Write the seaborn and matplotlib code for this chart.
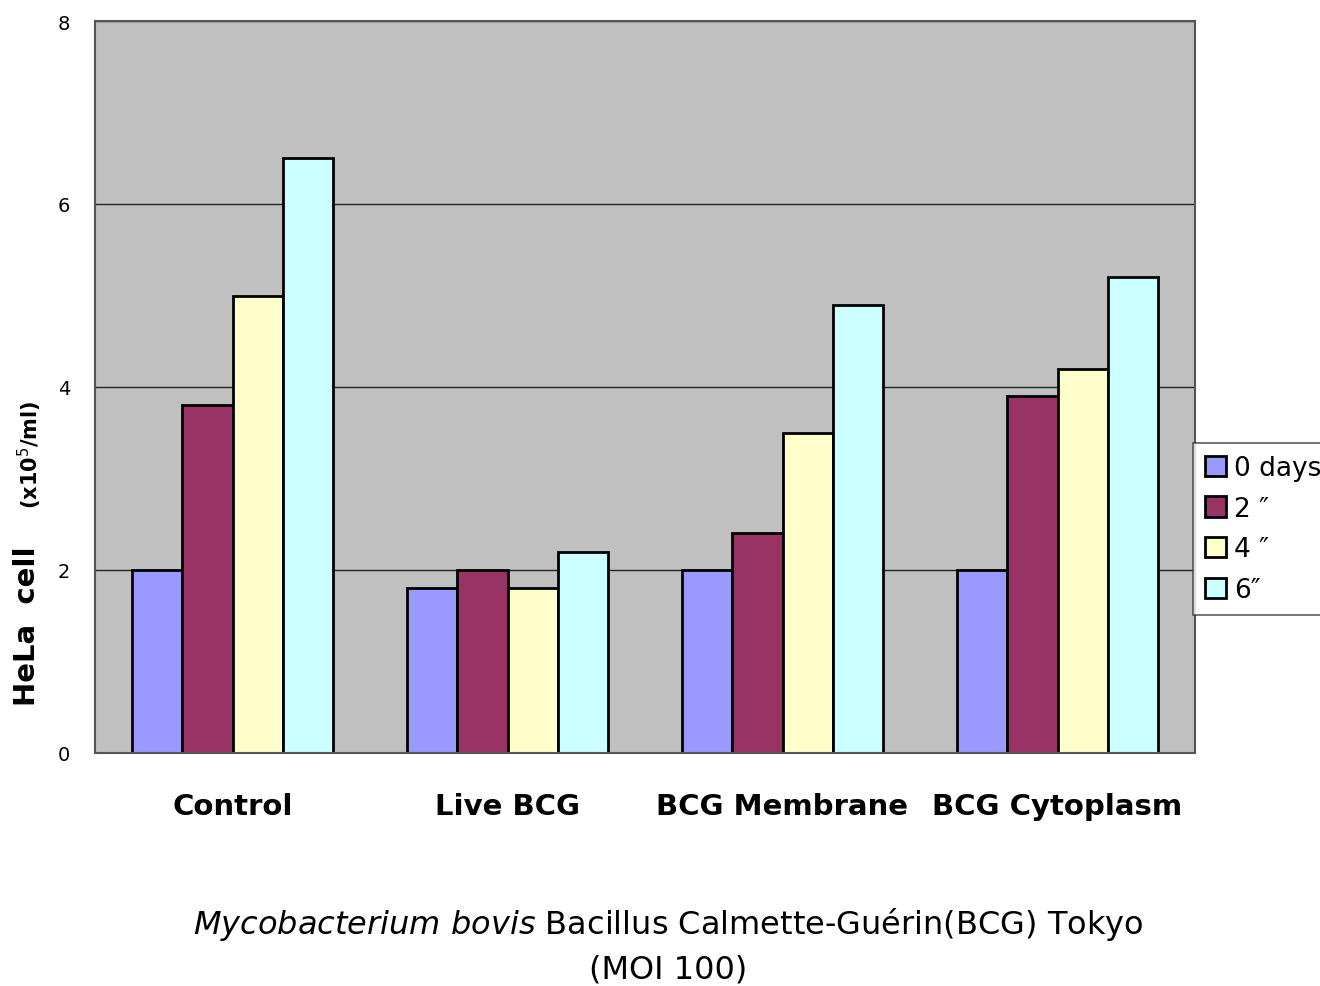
import pandas as pd
import numpy as np
import matplotlib
matplotlib.use('Agg')
import matplotlib.pyplot as plt
import seaborn as sns

groups = ['Control', 'Live BCG', 'BCG Membrane', 'BCG Cytoplasm']
days = ['0 days', '2 \u2033', '4 \u2033', '6\u2033']
day0 = [2.0, 1.8, 2.0, 2.0]
day2 = [3.8, 2.0, 2.4, 3.9]
day4 = [5.0, 1.8, 3.5, 4.2]
day6 = [6.5, 2.2, 4.9, 5.2]
colors = ['#9999FF', '#993366', '#FFFFCC', '#CCFFFF']

rows = []
for d, vals in zip(days, [day0, day2, day4, day6]):
    for g, v in zip(groups, vals):
        rows.append({'group': g, 'day': d, 'value': v})
df = pd.DataFrame(rows)

sns.set_style('white')
plt.rcParams['font.family'] = ['DejaVu Sans', 'Noto Sans CJK JP']
plt.rcParams['text.color'] = 'black'
plt.rcParams['xtick.color'] = 'black'
plt.rcParams['ytick.color'] = 'black'

fig = plt.figure(figsize=(13.2, 9.87), dpi=100)
ax = fig.add_axes([95/1320, 1-754/987, 1100/1320, 732/987])
ax.set_facecolor('#C0C0C0')

sns.barplot(data=df, x='group', y='value', hue='day', palette=colors, saturation=1,
            width=0.73, edgecolor='black', linewidth=2, ax=ax, legend=True)

ax.set_xlim(-0.5, 3.5)
ax.set_ylim(0, 8)
ax.set_yticks([0, 2, 4, 6, 8])
ax.set_yticklabels(['0', '2', '4', '6', '8'], fontsize=14)
ax.yaxis.grid(True, color='#222222', linewidth=1)
ax.set_axisbelow(True)
ax.tick_params(axis='y', length=0, pad=18)
ax.tick_params(axis='x', which='major', length=0, pad=28)
ax.set_xticks([0.5, 1.5, 2.5], minor=True)
ax.tick_params(axis='x', which='minor', direction='in', length=8, width=1.2, color='#333333')
for lab in ax.get_xticklabels():
    lab.set_fontsize(21)
    lab.set_fontweight('bold')
for s in ax.spines.values():
    s.set_color('#555555')
    s.set_linewidth(1.5)

ax.set_xlabel('')
ax.set_ylabel('')

# y label in two parts
fig.text(27/1320, 1-626/987, 'HeLa  cell', rotation=90, fontsize=21, fontweight='bold',
         ha='center', va='center')
fig.text(30/1320, 1-455/987, r'(x10$^{5}$/ml)', rotation=90, fontsize=15, fontweight='bold',
         ha='center', va='center')

# x label
fig.text(0.506, 1-925/987, r'$\it{Mycobacterium\ bovis}$ Bacillus Calmette-Guérin(BCG) Tokyo',
         fontsize=23, ha='center', va='center')
fig.text(0.506, 1-970/987, '(MOI 100)', fontsize=23, ha='center', va='center')

handles, labels = ax.get_legend_handles_labels()
ax.legend_.remove()
leg = fig.legend(handles, labels, loc='center left', bbox_to_anchor=(1193/1320, 1-530/987),
                 fontsize=19, frameon=True, fancybox=False, edgecolor='#333333',
                 handlelength=0.8, handleheight=0.8, handletextpad=0.3,
                 labelspacing=0.55, borderpad=0.45, borderaxespad=0)
leg.get_frame().set_linewidth(1.2)
for h in leg.legend_handles:
    h.set_edgecolor('black')
    h.set_linewidth(2)

fig.savefig('out.png', dpi=100)
